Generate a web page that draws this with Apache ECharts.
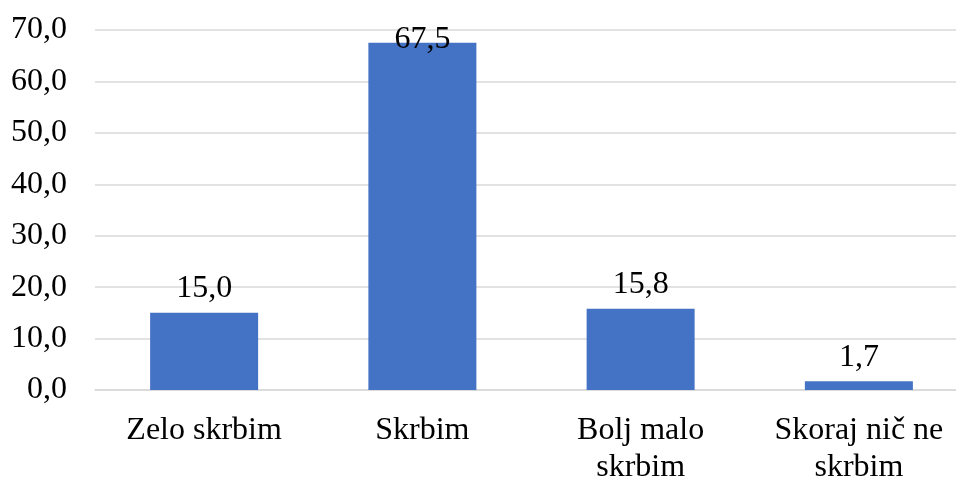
<!DOCTYPE html>
<html>
<head>
<meta charset="utf-8">
<script src="https://cdn.jsdelivr.net/npm/echarts@6/dist/echarts.min.js"></script>
<style>
  html, body { margin: 0; padding: 0; background: #ffffff; }
  #chart { width: 956px; height: 477px; }
</style>
</head>
<body>
<div id="chart"></div>
<script>
// Categories and shares (%)
const categories = ['Zelo skrbim', 'Skrbim', 'Bolj malo\nskrbim', 'Skoraj nič ne\nskrbim'];
const values = [15.0, 67.5, 15.8, 1.7];
const yTicks = { min: 0, max: 70, interval: 10 };

const FONT = '"Liberation Serif", "Times New Roman", serif';
const FONT_SIZE = 32;
const fmt = v => v.toFixed(1).replace('.', ',');

const chart = echarts.init(document.getElementById('chart'), null, { renderer: 'canvas' });

const seriesData = values.map(v => {
  const item = { value: v };
  // the tallest bar's label sits lower so it stays inside the plot
  if (v === Math.max(...values)) {
    item.label = { offset: [0, 21] };
  }
  return item;
});

chart.setOption({
  animation: false,
  backgroundColor: '#ffffff',
  grid: {
    left: 95, top: 30, width: 873, height: 360,
    containLabel: false,
    outerBoundsMode: 'none'
  },
  xAxis: {
    type: 'category',
    data: categories,
    axisLine: { show: true, lineStyle: { color: '#d9d9d9', width: 1.5 } },
    axisTick: { show: false },
    axisLabel: {
      color: '#000000',
      fontFamily: FONT,
      fontSize: FONT_SIZE,
      lineHeight: 37,
      margin: 22,
      interval: 0
    }
  },
  yAxis: {
    type: 'value',
    min: yTicks.min,
    max: yTicks.max,
    interval: yTicks.interval,
    axisLine: { show: false },
    axisTick: { show: false },
    splitLine: { lineStyle: { color: '#d9d9d9', width: 1.5 } },
    axisLabel: {
      color: '#000000',
      fontFamily: FONT,
      fontSize: FONT_SIZE,
      margin: 28,
      formatter: v => fmt(v)
    }
  },
  series: [{
    type: 'bar',
    data: seriesData,
    barWidth: 108,
    itemStyle: { color: '#4472c4' },
    label: {
      show: true,
      position: 'top',
      distance: 8,
      color: '#000000',
      fontFamily: FONT,
      fontSize: FONT_SIZE,
      formatter: p => fmt(p.value)
    }
  }]
});
</script>
</body>
</html>
